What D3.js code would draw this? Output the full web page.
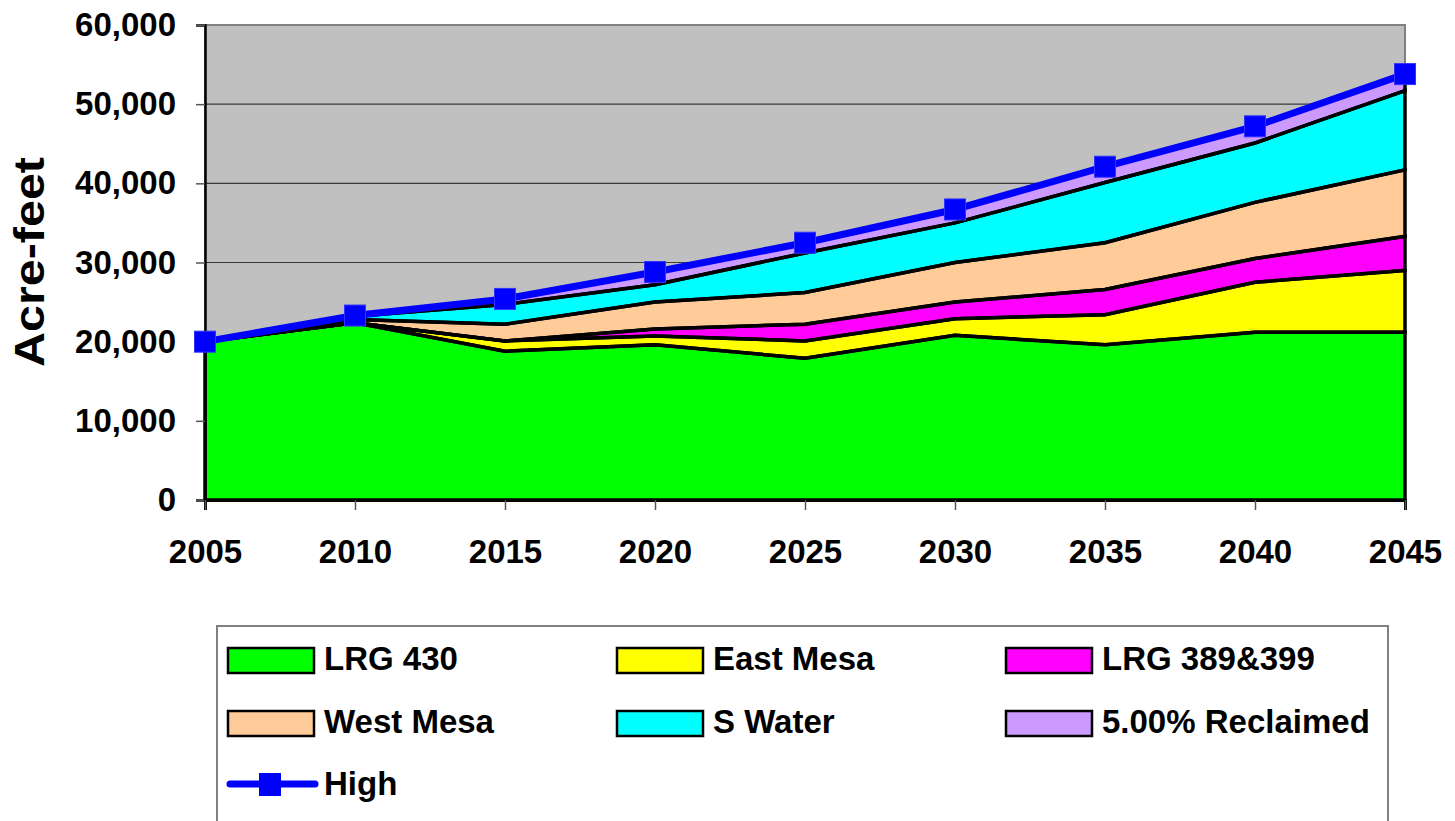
<!DOCTYPE html>
<html>
<head>
<meta charset="utf-8">
<script src="https://cdn.jsdelivr.net/npm/d3@7/dist/d3.min.js"></script>
<style>
  html, body { margin: 0; padding: 0; background: #fff; }
  svg { display: block; font-family: "Liberation Sans", Arial, sans-serif; font-weight: bold; }
</style>
</head>
<body>
<svg id="chart" width="1455" height="821"></svg>
<script>
// Supply projection by source, acre-feet
const years      = [2005, 2010, 2015, 2020, 2025, 2030, 2035, 2040, 2045];
const lrg430     = [20000, 22400, 18800, 19600, 17900, 20800, 19600, 21200, 21200];
const eastMesa   = [0, 0, 1300, 1100, 2200, 2100, 3800, 6300, 7800];
const lrg389399  = [0, 0, 0, 900, 2100, 2100, 3200, 3000, 4300];
const westMesa   = [0, 400, 2100, 3400, 4000, 5000, 5900, 7100, 8400];
const sWater     = [0, 400, 2500, 2200, 5000, 5000, 7600, 7500, 10000];
const reclaimed  = [0, 100, 700, 1600, 1300, 1700, 2000, 2100, 2100];
const high       = [20000, 23300, 25400, 28800, 32500, 36700, 42100, 47200, 53800];
const yTicks     = [0, 10000, 20000, 30000, 40000, 50000, 60000];

const seriesNames  = ["LRG 430", "East Mesa", "LRG 389&399", "West Mesa", "S Water", "5.00% Reclaimed"];
const seriesValues = [lrg430, eastMesa, lrg389399, westMesa, sWater, reclaimed];
const seriesColors = ["#00FF00", "#FFFF00", "#FF00FF", "#FFCC99", "#00FFFF", "#CC99FF"];

const rows = years.map((yr, i) => {
  const r = { year: yr };
  seriesNames.forEach((n, k) => { r[n] = seriesValues[k][i]; });
  return r;
});

const svg = d3.select("#chart");
const plotLeft = 205, plotRight = 1405, plotTop = 25, plotBottom = 500;

const x = d3.scaleLinear().domain([2005, 2045]).range([plotLeft, plotRight]);
const y = d3.scaleLinear().domain([0, 60000]).range([plotBottom, plotTop]);

// plot background
svg.append("rect")
  .attr("x", plotLeft).attr("y", plotTop)
  .attr("width", plotRight - plotLeft).attr("height", plotBottom - plotTop)
  .attr("fill", "#C0C0C0");

// horizontal gridlines
svg.append("g").selectAll("line")
  .data(yTicks.filter(d => d > 0))
  .join("line")
  .attr("x1", plotLeft).attr("x2", plotRight)
  .attr("y1", d => y(d)).attr("y2", d => y(d))
  .attr("stroke", "#3a3a3a").attr("stroke-width", 1.2);

// plot border
svg.append("rect")
  .attr("x", plotLeft).attr("y", plotTop)
  .attr("width", plotRight - plotLeft).attr("height", plotBottom - plotTop)
  .attr("fill", "none").attr("stroke", "#808080").attr("stroke-width", 2);

// stacked areas: fills first, then all outlines on top
const stack = d3.stack().keys(seriesNames);
const layers = stack(rows);
const area = d3.area()
  .x(d => x(d.data.year))
  .y0(d => y(d[0]))
  .y1(d => y(d[1]));

svg.append("g").selectAll("path")
  .data(layers)
  .join("path")
  .attr("d", area)
  .attr("fill", (d, i) => seriesColors[i]);

svg.append("g").selectAll("path")
  .data(layers)
  .join("path")
  .attr("d", area)
  .attr("fill", "none")
  .attr("stroke", "#000")
  .attr("stroke-width", 3.5)
  .attr("stroke-linejoin", "miter");

// axes
const yAxis = d3.axisLeft(y)
  .tickValues(yTicks)
  .tickFormat(d3.format(","))
  .tickSize(9)
  .tickPadding(20);
const gy = svg.append("g").attr("transform", `translate(${plotLeft},0)`).call(yAxis);
gy.select(".domain").attr("stroke", "#000").attr("stroke-width", 2.5);
gy.selectAll(".tick line").attr("stroke", "#555").attr("stroke-width", 1.5);
gy.selectAll(".tick text")
  .attr("font-size", 33).attr("font-weight", "bold")
  .attr("font-family", "'Liberation Sans', Arial, sans-serif")
  .attr("fill", "#000");

const xAxis = d3.axisBottom(x)
  .tickValues(years)
  .tickFormat(d3.format("d"))
  .tickSize(10)
  .tickPadding(30);
const gx = svg.append("g").attr("transform", `translate(0,${plotBottom})`).call(xAxis);
gx.select(".domain").attr("stroke", "#000").attr("stroke-width", 3);
gx.selectAll(".tick line").attr("stroke", "#555").attr("stroke-width", 1.5);
gx.selectAll(".tick text")
  .attr("font-size", 33).attr("font-weight", "bold")
  .attr("font-family", "'Liberation Sans', Arial, sans-serif")
  .attr("fill", "#000");

// High demand line with square markers
const line = d3.line().x((d, i) => x(years[i])).y(d => y(d));
svg.append("path")
  .datum(high)
  .attr("d", line)
  .attr("fill", "none")
  .attr("stroke", "#0000FF")
  .attr("stroke-width", 7)
  .attr("stroke-linejoin", "round");

const sq = 21;
svg.append("g").selectAll("rect")
  .data(high)
  .join("rect")
  .attr("x", (d, i) => x(years[i]) - sq / 2)
  .attr("y", d => y(d) - sq / 2)
  .attr("width", sq).attr("height", sq)
  .attr("fill", "#0000FF")
  .attr("stroke", "#3333FF").attr("stroke-width", 1);

// y axis title
svg.append("text")
  .attr("transform", "translate(44,262) rotate(-90)")
  .attr("text-anchor", "middle")
  .attr("font-size", 42)
  .attr("textLength", 210)
  .attr("lengthAdjust", "spacingAndGlyphs")
  .text("Acre-feet");

// legend
const legend = svg.append("g");
legend.append("rect")
  .attr("x", 217).attr("y", 626)
  .attr("width", 1171).attr("height", 240)
  .attr("fill", "#fff").attr("stroke", "#808080").attr("stroke-width", 2);

const colX = [228, 617, 1006];
const rowY = [648, 711];
seriesNames.forEach((name, i) => {
  const cx = colX[i % 3], cy = rowY[Math.floor(i / 3)];
  legend.append("rect")
    .attr("x", cx).attr("y", cy)
    .attr("width", 86).attr("height", 25)
    .attr("fill", seriesColors[i])
    .attr("stroke", "#000").attr("stroke-width", 2.5);
  legend.append("text")
    .attr("x", cx + 96).attr("y", cy + 22)
    .attr("font-size", 33)
    .text(name);
});

// High entry
legend.append("line")
  .attr("x1", 230).attr("x2", 315)
  .attr("y1", 784).attr("y2", 784)
  .attr("stroke", "#0000FF").attr("stroke-width", 7)
  .attr("stroke-linecap", "round");
legend.append("rect")
  .attr("x", 259).attr("y", 773)
  .attr("width", 22).attr("height", 23)
  .attr("fill", "#0000FF");
legend.append("text")
  .attr("x", 324).attr("y", 795)
  .attr("font-size", 33)
  .text("High");
</script>
</body>
</html>
